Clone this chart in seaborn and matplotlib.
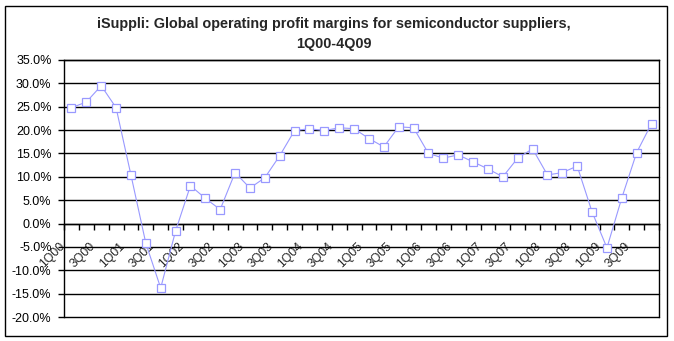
import matplotlib
matplotlib.use("Agg")
import matplotlib.pyplot as plt
from matplotlib.patches import Rectangle
from matplotlib.transforms import ScaledTranslation
import numpy as np
import pandas as pd
import seaborn as sns

# Quarterly operating profit margin (%), 1Q00 through 4Q09
quarters = [f"{q}Q{y:02d}" for y in range(0, 10) for q in range(1, 5)]
margins = [
    24.8, 26.0, 29.5, 24.8,   # 2000
    10.4, -4.2, -13.8, -1.6,  # 2001
    8.1, 5.4, 3.0, 10.9,      # 2002
    7.6, 9.8, 14.5, 19.9,     # 2003
    20.3, 19.9, 20.5, 20.3,   # 2004
    18.2, 16.4, 20.7, 20.5,   # 2005
    15.0, 14.0, 14.7, 13.2,   # 2006
    11.7, 10.0, 14.0, 16.0,   # 2007
    10.4, 10.9, 12.3, 2.5,    # 2008
    -5.2, 5.5, 15.2, 21.4,    # 2009
]
y_ticks = np.arange(-20, 36, 5)
title = "iSuppli: Global operating profit margins for semiconductor suppliers,\n1Q00-4Q09"

df = pd.DataFrame({"pos": np.arange(len(quarters)), "quarter": quarters, "margin": margins})

sns.set_style("white")
plt.rcParams["font.family"] = ["Liberation Sans", "DejaVu Sans"]

fig = plt.figure(figsize=(6.74, 3.41), dpi=100)
ax = fig.add_axes([64 / 674, 1 - 317 / 341, 595 / 674, 257 / 341])

line_color = "#9999FF"
sns.lineplot(data=df, x="pos", y="margin", ax=ax, color=line_color, linewidth=0.8,
             marker="s", markersize=5.2, markerfacecolor="white",
             markeredgecolor=line_color, markeredgewidth=0.9, zorder=5)

ax.set_xlim(-0.5, len(quarters) - 0.5)
ax.set_ylim(-20, 35)
ax.set_xlabel("")
ax.set_ylabel("")

# horizontal gridlines (the outer ones double as the plot-area frame)
for v in y_ticks:
    ax.axhline(v, color="black", linewidth=1.0, zorder=1, clip_on=False)

# frame of the plot area; category axis crosses at 0%
for side in ("left", "right", "top"):
    ax.spines[side].set_visible(True)
    ax.spines[side].set_color("black")
    ax.spines[side].set_linewidth(1.0)
ax.spines["bottom"].set_position(("data", 0))
ax.spines["bottom"].set_color("black")
ax.spines["bottom"].set_linewidth(1.0)

ax.set_yticks(y_ticks)
ax.set_yticklabels([f"{v:.1f}%" for v in y_ticks])
ax.tick_params(axis="y", which="major", left=True, direction="out", length=4,
               width=1, color="black", labelsize=9, pad=5, labelcolor="black")

# tick marks at category boundaries, labels on every other category
ax.set_xticks(np.arange(-0.5, len(quarters), 1.0))
ax.set_xticklabels([])
ax.tick_params(axis="x", which="major", bottom=True, direction="out", length=4,
               width=1, color="black")
ax.set_xticks(df["pos"][::2], minor=True)
ax.set_xticklabels(df["quarter"][::2], minor=True, rotation=45, ha="right",
                   va="center", rotation_mode="anchor", fontsize=8.8)
ax.tick_params(axis="x", which="minor", bottom=True, length=0, pad=15)
shift = ScaledTranslation(-8 / 100, 0, fig.dpi_scale_trans)
for lbl in ax.get_xticklabels(minor=True):
    lbl.set_transform(lbl.get_transform() + shift)

fig.text(0.496, 1 - 34 / 341, title, ha="center", va="center", fontsize=10.4,
         fontweight="bold", linespacing=1.6)

# outer chart border
fig.patches.append(Rectangle((5 / 674, 5 / 341), 662 / 674, 330 / 341,
                             transform=fig.transFigure, fill=False,
                             edgecolor="black", linewidth=1.0))

fig.savefig("out.png", dpi=100)
